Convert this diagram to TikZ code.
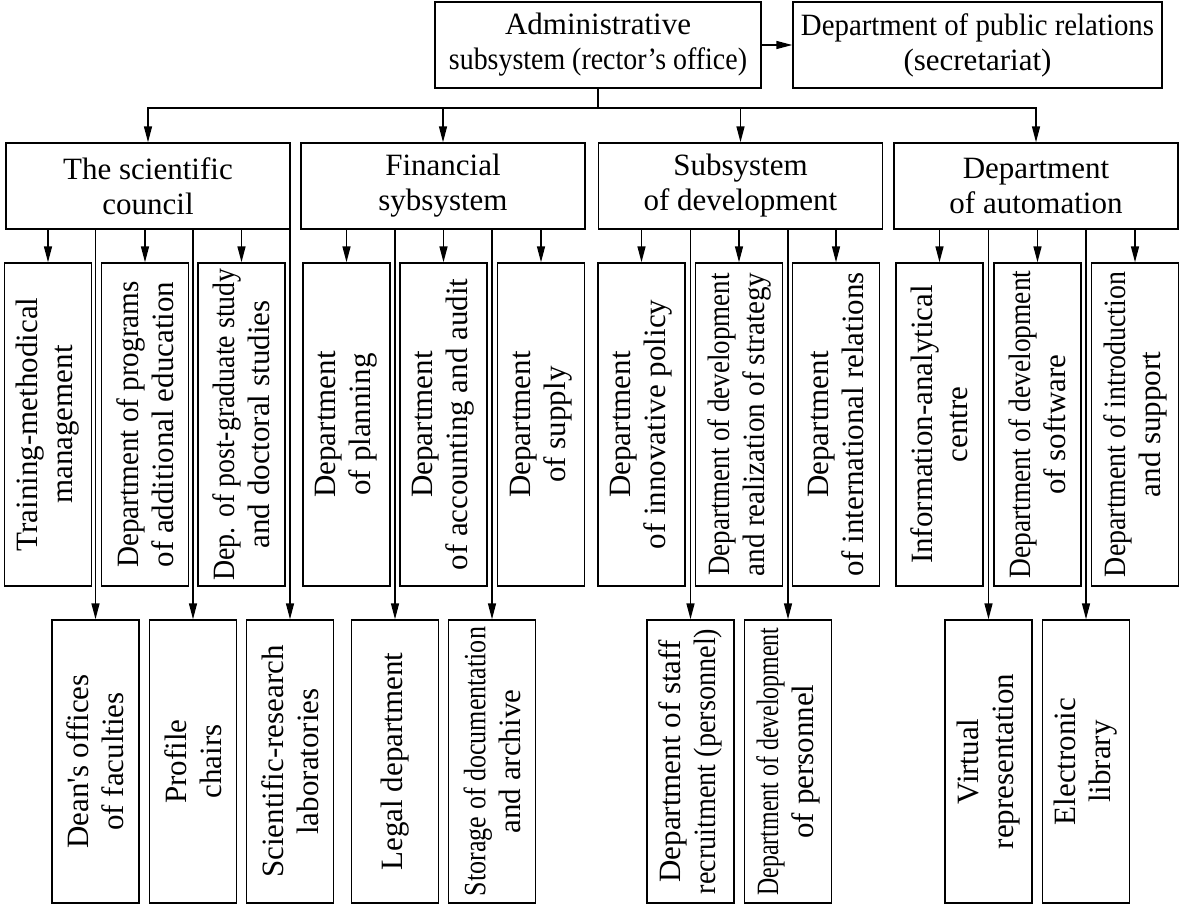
\documentclass[tikz,border=0pt]{standalone}
\usepackage{fontspec}
\setmainfont{Liberation Serif}
\usepackage{graphicx}
\usetikzlibrary{arrows.meta,positioning,calc}

\newcommand{\squeeze}[2]{\scalebox{#1}[1]{#2}}

\begin{document}
\begin{tikzpicture}[x=1pt,y=-1pt,
    box/.style={draw,line width=1.4pt,inner sep=0pt,align=center,
                font=\fontsize{31}{35}\selectfont},
    headbox/.style={box,minimum width=284pt,minimum height=86pt},
    deptbox/.style={box,rotate=90,minimum width=323pt,minimum height=87pt},
    unitbox/.style={box,rotate=90,minimum width=283pt,minimum height=87pt},
    arr/.style={line width=1.4pt,-{Triangle[length=16pt,width=8pt]}},
    link/.style={line width=1.4pt}]
    \useasboundingbox (0,0) rectangle (1180,905);

    % rector's office
    \node[box,minimum width=326pt,minimum height=86pt] (admin) at (598,45)
        {Administrative\\\squeeze{0.9}{subsystem (rector’s office)}};
    \node[box,minimum width=369pt,minimum height=86pt] (pr) at (977.5,45)
        {\squeeze{0.93}{Department of public relations}\\(secretariat)};
    \draw[arr] (admin) -- (pr);

    % subsystems
    \node[headbox] (council) at (148,186) {The scientific\\council};
    \node[headbox] (finance) at (443,186) {Financial\\sybsystem};
    \node[headbox] (develop) at (740.5,186) {Subsystem\\of development};
    \node[headbox] (automat) at (1036,186) {Department\\of automation};

    \coordinate (bus) at (598,108);
    \draw[link] (admin.south) -- (bus);
    \foreach \n in {council,finance,develop,automat}
        \draw[arr] (bus) -| (\n.north);

    % departments
    \node[deptbox] (train) at (48,424.5) {Training-methodical\\management};
    \node[deptbox] (progr) at (145,424.5) {\squeeze{0.94}{Department of programs}\\of additional education};
    \node[deptbox] (postgr) at (241.5,424.5) {\squeeze{0.9}{Dep. of post-graduate study}\\and doctoral studies};
    \node[deptbox] (plan) at (346.5,424.5) {Department\\of planning};
    \node[deptbox] (account) at (443.5,424.5) {Department\\of accounting and audit};
    \node[deptbox] (supply) at (541,424.5) {Department\\of supply};
    \node[deptbox] (innov) at (641.5,424.5) {Department\\of innovative policy};
    \node[deptbox] (strat) at (739,424.5) {\squeeze{0.87}{Department of development}\\\squeeze{0.94}{and realization of strategy}};
    \node[deptbox] (intrel) at (836,424.5) {Department\\of international relations};
    \node[deptbox] (infocen) at (939.5,424.5) {Information-analytical\\centre};
    \node[deptbox] (softw) at (1037.5,424.5) {\squeeze{0.885}{Department of development}\\of software};
    \node[deptbox] (introd) at (1135,424.5) {\squeeze{0.9}{Department of introduction}\\and support};

    \draw[arr] (council.south -| train) -- (train.east);
    \draw[arr] (council.south -| progr) -- (progr.east);
    \draw[arr] (council.south -| postgr) -- (postgr.east);
    \draw[arr] (finance.south -| plan) -- (plan.east);
    \draw[arr] (finance.south -| account) -- (account.east);
    \draw[arr] (finance.south -| supply) -- (supply.east);
    \draw[arr] (develop.south -| innov) -- (innov.east);
    \draw[arr] (develop.south -| strat) -- (strat.east);
    \draw[arr] (develop.south -| intrel) -- (intrel.east);
    \draw[arr] (automat.south -| infocen) -- (infocen.east);
    \draw[arr] (automat.south -| softw) -- (softw.east);
    \draw[arr] (automat.south -| introd) -- (introd.east);

    % units
    \node[unitbox] (deans) at (95.5,761.5) {Dean\textquotesingle s offices\\of faculties};
    \node[unitbox] (chairs) at (193,761.5) {Profile\\chairs};
    \node[unitbox] (labs) at (290,761.5) {Scientific-research\\laboratories};
    \node[unitbox] (legal) at (395,761.5) {Legal department};
    \node[unitbox] (archive) at (492,761.5) {\squeeze{0.84}{Storage of documentation}\\and archive};
    \node[unitbox] (staff) at (690.5,761.5) {Department of staff\\\squeeze{0.91}{recruitment (personnel)}};
    \node[unitbox] (persdev) at (788,761.5) {\squeeze{0.77}{Department of development}\\of personnel};
    \node[unitbox] (virtual) at (988.5,761.5) {Virtual\\representation};
    \node[unitbox] (elib) at (1086,761.5) {Electronic\\library};

    \draw[arr] (council.south -| deans) -- (deans.east);
    \draw[arr] (council.south -| chairs) -- (chairs.east);
    \draw[arr] (council.south -| labs) -- (labs.east);
    \draw[arr] (finance.south -| legal) -- (legal.east);
    \draw[arr] (finance.south -| archive) -- (archive.east);
    \draw[arr] (develop.south -| staff) -- (staff.east);
    \draw[arr] (develop.south -| persdev) -- (persdev.east);
    \draw[arr] (automat.south -| virtual) -- (virtual.east);
    \draw[arr] (automat.south -| elib) -- (elib.east);
\end{tikzpicture}
\end{document}
